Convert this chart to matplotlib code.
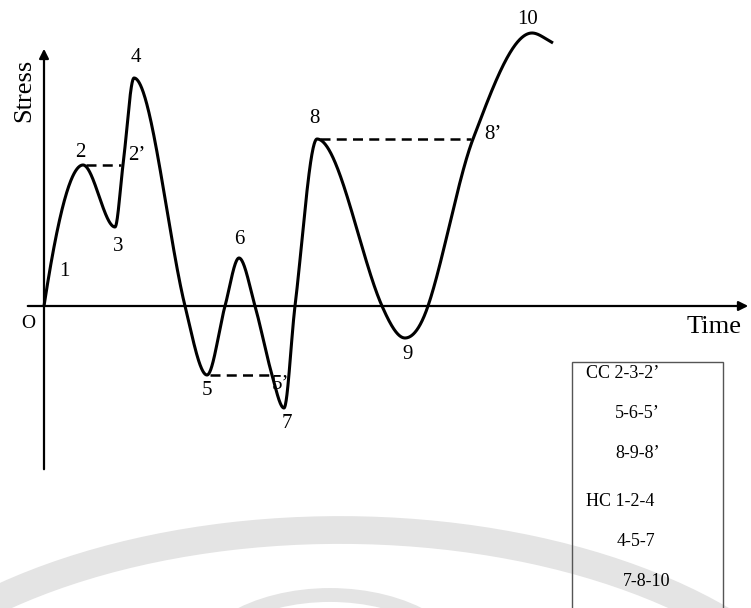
import numpy as np
import matplotlib.pyplot as plt
from matplotlib.patches import Rectangle, Arc

plt.rcParams['font.family'] = ['Liberation Serif', 'DejaVu Serif']

# stress-time history: turning points and zero crossings
time = [0.0, 3.9, 7.1, 7.9, 9.0, 14.1, 16.3, 18.1, 19.5, 21.1, 22.8, 24.0,
        25.1, 27.3, 33.8, 36.1, 38.4, 42.9, 48.8, 50.9]
stress = [0.0, 14.1, 7.9, 14.1, 22.8, 0.0, -6.9, 0.0, 4.8, 0.0, -6.9, -10.2,
          0.0, 16.7, 0.0, -3.2, 0.0, 16.7, 27.3, 26.3]

# named points on the history and where their labels sit (offset in points)
point_names = ['1', '2', "2\u2019", '3', '4', '5', '6', "5\u2019", '7', '8', '9', "8\u2019", '10']
point_index = [0, 1, 3, 2, 4, 6, 8, 10, 11, 13, 15, 17, 18]
label_offset = [(15, 24.5), (-2, 9), (10, 6.5), (2, -14), (1.5, 14.5), (0, -11.5), (0, 13),
                (6, -7), (2, -11), (-1.5, 15), (2, -12), (14, 3), (-3.5, 9.5)]

# cycle counting: closed cycles and half cycles
closed = [(1, 3), (6, 10), (13, 17)]
box_lines = ["CC 2-3-2\u2019", "5-6-5\u2019", "8-9-8\u2019",
             "HC 1-2-4", "4-5-7", "7-8-10"]


def hermite(x, y, xs):
    # cubic Hermite through the knots, flat at turning points
    x = np.asarray(x, float)
    y = np.asarray(y, float)
    h = np.diff(x)
    d = np.diff(y) / h
    m = np.zeros_like(y)
    m[0], m[-1] = 1.8 * d[0], d[-1]
    for k in range(1, len(x) - 1):
        if d[k - 1] * d[k] > 0:
            m[k] = (y[k + 1] - y[k - 1]) / (x[k + 1] - x[k - 1])
    i = np.clip(np.searchsorted(x, xs) - 1, 0, len(x) - 2)
    t = (xs - x[i]) / h[i]
    h00 = 2 * t**3 - 3 * t**2 + 1
    h10 = t**3 - 2 * t**2 + t
    h01 = -2 * t**3 + 3 * t**2
    h11 = t**3 - t**2
    return h00 * y[i] + h10 * h[i] * m[i] + h01 * y[i + 1] + h11 * h[i] * m[i + 1]


fig = plt.figure(figsize=(7.51, 6.08), dpi=100)
ax = fig.add_axes([0, 0, 1, 1])
ax.set_xlim(-4.4, 70.7)
ax.set_ylim(-30.2, 30.6)
ax.axis('off')

# faint logo in the background
ax.add_patch(Arc((29.6, -50.4), 104, 56, theta1=20, theta2=175,
                 color='#e4e4e4', lw=20, zorder=0))
ax.add_patch(Arc((28.6, -37.4), 28, 17, theta1=0, theta2=180,
                 color='#e4e4e4', lw=10, zorder=0))

# axes with arrow heads
ax.annotate('', xy=(0, 26.0), xytext=(0, -16.6),
            arrowprops=dict(arrowstyle='-|>', color='k', lw=1.6, mutation_scale=14))
ax.annotate('', xy=(70.7, 0), xytext=(-1.9, 0),
            arrowprops=dict(arrowstyle='-|>', color='k', lw=1.6, mutation_scale=14))
ax.text(-2.0, 21.6, 'Stress', rotation=90, fontsize=19, ha='center', va='center')
ax.text(67.0, -2.1, 'Time', fontsize=19, ha='center', va='center')
ax.text(-1.6, -1.7, 'O', fontsize=14, ha='center', va='center')

ts = np.linspace(time[0], time[-1], 2000)
ax.plot(ts, hermite(time, stress, ts), color='k', lw=2.2, solid_capstyle='butt')

for a, b in closed:
    ax.plot([time[a] + 0.3, time[b] - 0.2], [stress[a], stress[a]], color='k',
            lw=1.8, linestyle=(0, (4, 2.5)))

for name, idx, off in zip(point_names, point_index, label_offset):
    ax.annotate(name, (time[idx], stress[idx]), xytext=off, textcoords='offset points',
                fontsize=15, ha='center', va='center')

ax.add_patch(Rectangle((52.8, -32.0), 15.1, 26.4, fill=False, ec='#555555', lw=1.0))
box_x = [54.2, 57.1, 57.1, 54.2, 57.3, 57.9]
for i, line in enumerate(box_lines):
    ax.text(box_x[i], -6.7 - 4.0 * i - (0.9 if i > 2 else 0), line, fontsize=13,
            ha='left', va='center')

fig.savefig('out.png', dpi=100)
